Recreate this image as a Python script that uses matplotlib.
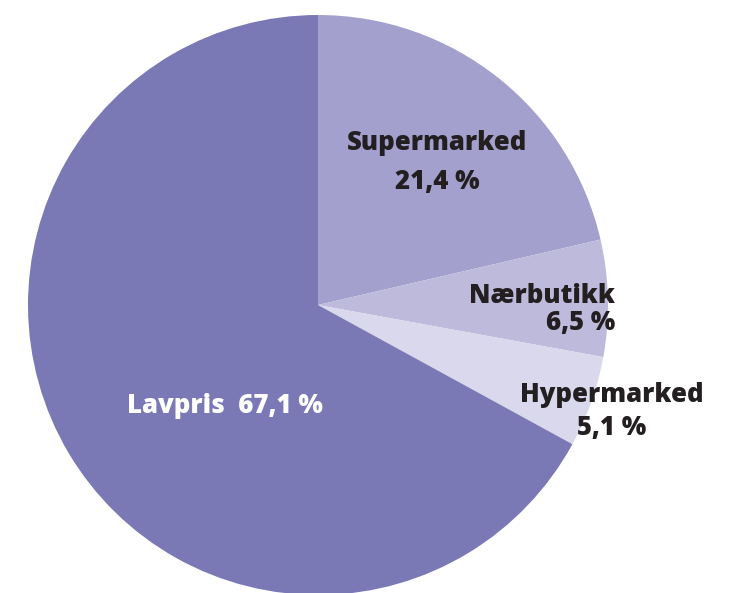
import matplotlib.pyplot as plt

# Data
kategorier = ['Supermarked', 'Nærbutikk', 'Hypermarked', 'Lavpris']
andel = [21.4, 6.5, 5.1, 67.1]
farger = ['#a3a0ce', '#bdbadc', '#d9d8ec', '#7b78b6']

W, H = 735, 593
fig = plt.figure(figsize=(W / 100, H / 100), dpi=100)
ax = fig.add_axes([0, 0, 1, 1])

# Pie in pixel-like coordinates
cx, cy, r = 318, H - 305, 290
ax.pie(andel, colors=farger, startangle=90, counterclock=False,
       center=(cx, cy), radius=r, wedgeprops=dict(linewidth=0))
ax.set_xlim(0, W)
ax.set_ylim(0, H)
ax.set_aspect('equal')
ax.axis('off')

font = dict(family=['Open Sans', 'DejaVu Sans'], fontweight='heavy', fontsize=18.5)
dark = '#231f20'

# Labels
ax.text(437, H - 143, 'Supermarked', ha='center', va='center', color=dark, **font)
ax.text(437, H - 182, '21,4 %', ha='center', va='center', color=dark, **font)
ax.text(615, H - 296, 'Nærbutikk', ha='right', va='center', color=dark, **font)
ax.text(615, H - 323, '6,5 %', ha='right', va='center', color=dark, **font)
ax.text(612, H - 395, 'Hypermarked', ha='center', va='center', color=dark, **font)
ax.text(612, H - 428, '5,1 %', ha='center', va='center', color=dark, **font)
ax.text(225, H - 406, 'Lavpris  67,1 %', ha='center', va='center', color='white', **font)

fig.savefig('out.png', dpi=100)
